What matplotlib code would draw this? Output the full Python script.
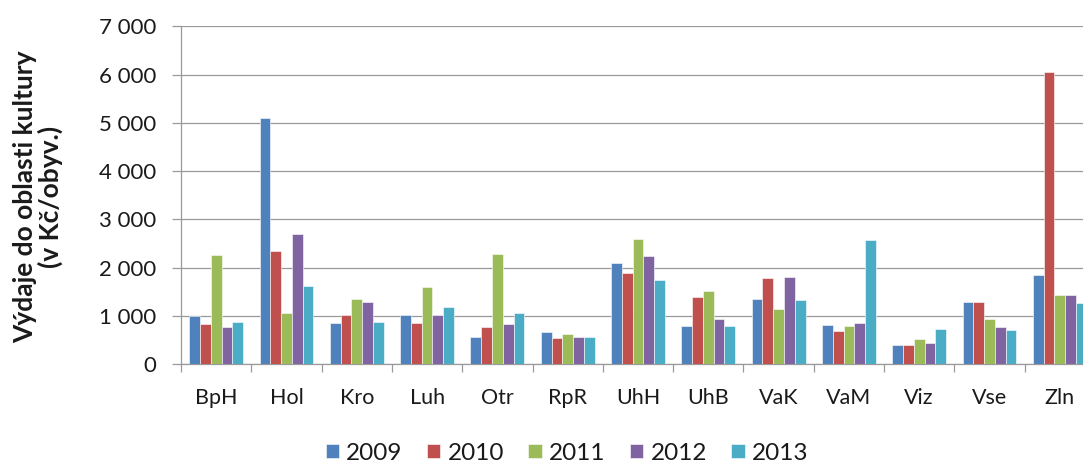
import numpy as np
import matplotlib
matplotlib.use("Agg")
import matplotlib.pyplot as plt
from matplotlib.ticker import FixedLocator, FuncFormatter

# ── Data ──────────────────────────────────────────────────────────────────────
categories = ["BpH", "Hol", "Kro", "Luh", "Otr", "RpR", "UhH",
              "UhB", "VaK", "VaM", "Viz", "Vse", "Zln"]
years = ["2009", "2010", "2011", "2012", "2013"]

v2009 = [1000, 5090,  855, 1020,  560, 665, 2090,  785, 1345,  810, 390, 1290, 1850]
v2010 = [ 835, 2340, 1015,  855,  760, 540, 1880, 1395, 1790,  685, 390, 1290, 6060]
v2011 = [2265, 1055, 1345, 1590, 2290, 615, 2590, 1510, 1145,  780, 510,  930, 1435]
v2012 = [ 760, 2705, 1290, 1015,  835, 560, 2245,  930, 1810,  855, 440,  760, 1435]
v2013 = [ 880, 1615,  880, 1175, 1055, 560, 1735,  785, 1320, 2560, 730,  710, 1270]
series = [v2009, v2010, v2011, v2012, v2013]

# ── Style ─────────────────────────────────────────────────────────────────────
COLORS = ["#4F81BD", "#C0504D", "#9BBB59", "#8064A2", "#4BACC6"]
C_GRID = "#9A9A9A"
C_TEXT = "#1A1A1A"
FONT = ["Lato", "DejaVu Sans"]
plt.rcParams["font.family"] = FONT

fig = plt.figure(figsize=(10.83, 4.62), dpi=100)
fig.patch.set_facecolor("white")
# axes reaches past the right edge, as in the (cropped) original
ax = fig.add_axes([181 / 1083, 1 - 364 / 462, 914 / 1083, (364 - 26.3) / 462])

x = np.arange(len(categories))
width = 0.153
for i, (vals, yr) in enumerate(zip(series, years)):
    ax.bar(x + (i - 2) * width, vals, width, color=COLORS[i], label=yr,
           edgecolor="white", linewidth=0.4, zorder=3)

ax.set_xlim(-0.5, len(categories) - 0.5)
ax.set_ylim(0, 7000)
ax.yaxis.set_major_locator(FixedLocator(np.arange(0, 7001, 1000)))
ax.yaxis.set_major_formatter(FuncFormatter(lambda v, _: f"{int(v):,}".replace(",", " ")))
ax.grid(axis="y", color=C_GRID, linewidth=0.9, zorder=0)
ax.set_axisbelow(True)

ax.set_xticks(x)
ax.set_xticklabels(categories)
ax.xaxis.set_minor_locator(FixedLocator(np.arange(-0.5, len(categories), 1.0)))
ax.tick_params(axis="x", which="major", length=0, pad=17, labelsize=15.5, labelcolor=C_TEXT)
ax.tick_params(axis="x", which="minor", length=5.5, width=0.9, color=C_GRID, direction="out")
ax.tick_params(axis="y", length=6.5, width=0.9, color=C_GRID, pad=11,
               labelsize=16, labelcolor=C_TEXT)

for s in ["top", "right"]:
    ax.spines[s].set_visible(False)
for s in ["left", "bottom"]:
    ax.spines[s].set_color(C_GRID)
    ax.spines[s].set_linewidth(0.9)

fig.text(38 / 1083, 1 - 197 / 462, "Výdaje do oblasti kultury\n(v Kč/obyv.)",
         rotation=90, ha="center", va="center", multialignment="center",
         fontsize=19, fontweight="bold", color=C_TEXT, linespacing=1.05)

fig.legend(loc="center", bbox_to_anchor=(567 / 1083, 1 - 453 / 462), ncol=5,
           frameon=False, fontsize=17.5, handlelength=0.55, handleheight=0.55,
           handletextpad=0.3, columnspacing=1.0, labelcolor=C_TEXT)

fig.savefig("out.png", dpi=100, facecolor="white")
